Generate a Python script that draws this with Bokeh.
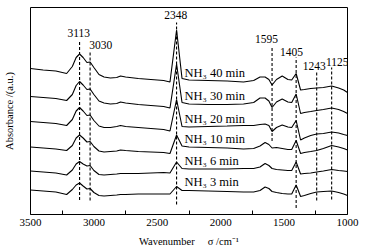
from bokeh.plotting import figure
from bokeh.models import Range1d, FixedTicker
from bokeh.core.properties import value
from bokeh.embed import file_html
from bokeh.resources import INLINE

# Wavenumber grid (cm^-1)
wavenumber = [3500, 3400, 3300, 3215, 3170, 3140, 3113, 3085, 3055, 3030, 3000, 2960, 2920, 2870,
              2820, 2790, 2750, 2650, 2550, 2450, 2400, 2348, 2305, 2250, 2100, 1950, 1820, 1740,
              1690, 1650, 1620, 1595, 1560, 1515, 1470, 1440, 1405, 1370, 1340, 1290, 1243, 1190,
              1125, 1070, 1030, 1000]

# Absorbance (a.u., offset stacked)
abs_40 = [1.46, 1.445, 1.435, 1.41, 1.48, 1.57, 1.605, 1.57, 1.52, 1.525, 1.47, 1.40, 1.375, 1.365,
          1.37, 1.385, 1.375, 1.36, 1.35, 1.34, 1.325, 1.845, 1.36, 1.345, 1.34, 1.335, 1.325, 1.34,
          1.375, 1.375, 1.35, 1.295, 1.35, 1.385, 1.35, 1.345, 1.41, 1.245, 1.25, 1.26, 1.265, 1.27,
          1.285, 1.265, 1.245, 1.22]
abs_30 = [1.18, 1.17, 1.16, 1.14, 1.20, 1.29, 1.33, 1.295, 1.25, 1.255, 1.20, 1.135, 1.115, 1.105,
          1.11, 1.125, 1.115, 1.10, 1.09, 1.08, 1.065, 1.505, 1.12, 1.105, 1.10, 1.10, 1.105, 1.12,
          1.165, 1.165, 1.135, 1.07, 1.125, 1.155, 1.125, 1.12, 1.205, 1.01, 1.02, 1.03, 1.04, 1.05,
          1.065, 1.05, 1.03, 1.01]
abs_20 = [0.93, 0.92, 0.91, 0.89, 0.95, 1.035, 1.07, 1.035, 0.99, 0.995, 0.94, 0.885, 0.87, 0.87,
          0.88, 0.89, 0.88, 0.87, 0.86, 0.85, 0.835, 1.15, 0.88, 0.875, 0.88, 0.885, 0.89, 0.89,
          0.90, 0.905, 0.89, 0.83, 0.87, 0.895, 0.875, 0.87, 0.94, 0.745, 0.765, 0.79, 0.805, 0.81,
          0.825, 0.815, 0.80, 0.79]
abs_10 = [0.675, 0.665, 0.655, 0.64, 0.69, 0.765, 0.795, 0.765, 0.725, 0.73, 0.68, 0.635, 0.625, 0.63,
          0.635, 0.645, 0.64, 0.63, 0.625, 0.62, 0.61, 0.795, 0.685, 0.675, 0.67, 0.665, 0.655, 0.66,
          0.685, 0.72, 0.70, 0.665, 0.67, 0.66, 0.65, 0.65, 0.74, 0.61, 0.62, 0.63, 0.64, 0.66,
          0.69, 0.675, 0.66, 0.645]
abs_6 = [0.435, 0.425, 0.415, 0.395, 0.445, 0.505, 0.53, 0.505, 0.485, 0.49, 0.44, 0.40, 0.395, 0.40,
         0.405, 0.41, 0.41, 0.41, 0.415, 0.42, 0.415, 0.525, 0.46, 0.455, 0.455, 0.455, 0.46, 0.46,
         0.475, 0.51, 0.49, 0.46, 0.45, 0.445, 0.44, 0.44, 0.525, 0.405, 0.41, 0.415, 0.425, 0.435,
         0.45, 0.44, 0.435, 0.43]
abs_3 = [0.245, 0.235, 0.225, 0.20, 0.25, 0.295, 0.315, 0.285, 0.255, 0.26, 0.22, 0.19, 0.185, 0.19,
         0.195, 0.20, 0.20, 0.205, 0.205, 0.205, 0.205, 0.28, 0.24, 0.24, 0.235, 0.23, 0.225, 0.225,
         0.24, 0.275, 0.26, 0.23, 0.22, 0.21, 0.205, 0.205, 0.295, 0.18, 0.19, 0.21, 0.225, 0.23,
         0.235, 0.22, 0.205, 0.19]

series = [abs_40, abs_30, abs_20, abs_10, abs_6, abs_3]
series_labels = ["NH\u2083 40 min", "NH\u2083 30 min", "NH\u2083 20 min",
                 "NH\u2083 10 min", "NH\u2083 6 min", "NH\u2083 3 min"]

# Marked peaks
peaks = [3113, 3030, 2348, 1595, 1405, 1243, 1125]
peak_names = ["3113", "3030", "2348", "1595", "1405", "1243", "1125"]

x_ticks = [3500, 3000, 2500, 2000, 1500, 1000]
x_minor = [3250, 2750, 2250, 1750, 1250]

# ---- layout / style ----
FONT = "Liberation Serif"
dash_top = [1.74, 1.64, 1.92, 1.68, 1.57, 1.42, 1.47]
dash_bot = [0.145, 0.14, 0.10, 0.735, 0.065, 0.14, 0.15]
peak_lx = [3119, 2946, 2354, 1639, 1442, 1263, 1081]
peak_ly = [1.817, 1.70, 1.993, 1.757, 1.627, 1.49, 1.53]
lab_x = 2286
lab_y = [1.42, 1.183, 0.957, 0.757, 0.54, 0.323]

p = figure(frame_width=317, frame_height=207, x_range=Range1d(3500, 1000), y_range=Range1d(0, 2.07),
           output_backend="svg", toolbar_location=None,
           min_border_left=30, min_border_right=18, min_border_top=7, min_border_bottom=38)
p.grid.visible = False
p.outline_line_color = "black"
p.outline_line_width = 1
p.background_fill_color = "white"
p.border_fill_color = "white"

xa = p.xaxis[0]
xa.ticker = FixedTicker(ticks=x_ticks, minor_ticks=x_minor)
xa.major_tick_in = 0
xa.major_tick_out = 0
xa.minor_tick_in = 4
xa.minor_tick_out = 0
xa.minor_tick_line_color = "black"
xa.axis_line_color = "black"
xa.major_label_text_font = FONT
xa.major_label_text_font_size = "11px"
xa.major_label_text_color = "black"
xa.major_label_standoff = 4
xa.axis_label = "Wavenumber\u00a0\u00a0\u00a0\u00a0\u00a0\u03c3 /cm\u207b\u00b9"
xa.axis_label_text_font = FONT
xa.axis_label_text_font_size = "10.5px"
xa.axis_label_text_font_style = "normal"
xa.axis_label_text_color = "black"
xa.axis_label_standoff = 7

ya = p.yaxis[0]
ya.ticker = FixedTicker(ticks=[])
ya.major_tick_in = 0
ya.major_tick_out = 0
ya.minor_tick_in = 0
ya.minor_tick_out = 0
ya.axis_line_color = None
ya.major_label_text_font_size = "0px"
ya.major_label_standoff = 0
ya.axis_label = "Absorbance /(a.u.)"
ya.axis_label_text_font = FONT
ya.axis_label_text_font_size = "10.5px"
ya.axis_label_text_font_style = "normal"
ya.axis_label_text_color = "black"
ya.axis_label_standoff = 16

for s in series:
    p.line(wavenumber, s, line_color="black", line_width=1.1)

p.segment(x0=peaks, y0=dash_bot, x1=peaks, y1=dash_top, line_color="black",
          line_width=1.1, line_dash="3 2")

p.text(x=peak_lx, y=peak_ly, text=peak_names, text_font=value(FONT), text_font_size="11.5px",
       text_align="center", text_baseline="middle", text_color="black")

p.text(x=[lab_x] * len(series_labels), y=lab_y, text=series_labels, text_font=value(FONT),
       text_font_size="12.5px", text_align="left", text_baseline="middle", text_color="black")

open("out.html", "w").write(file_html(p, INLINE))
